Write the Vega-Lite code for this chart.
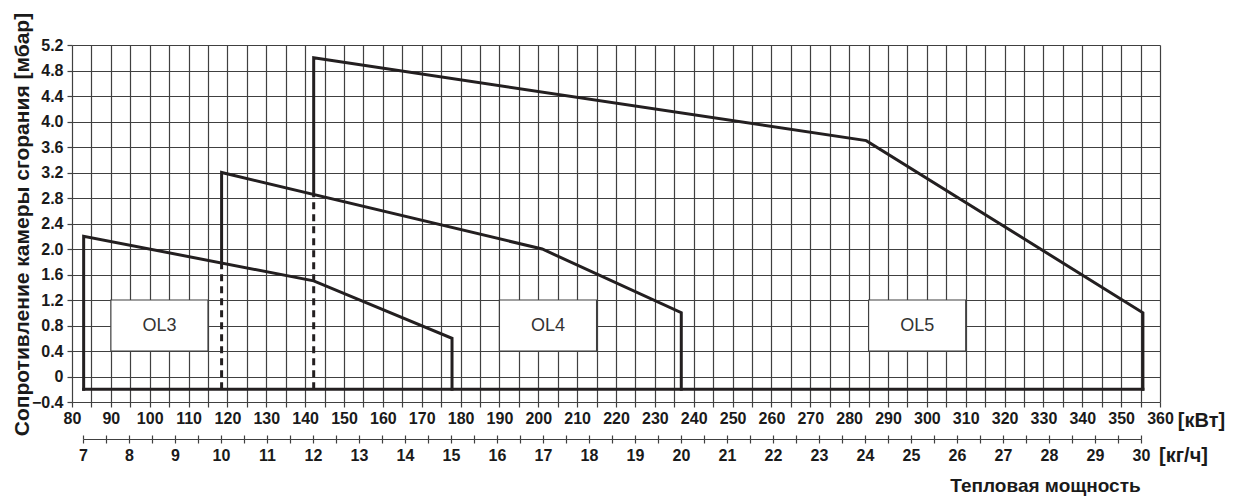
{
  "$schema": "https://vega.github.io/schema/vega-lite/v6.json",
  "width": 1088,
  "height": 357,
  "autosize": {"type": "none"},
  "padding": {"left": 72, "top": 45, "right": 73, "bottom": 96},
  "background": "white",
  "config": {
    "view": {"stroke": null},
    "font": "Liberation Sans",
    "axis": {
      "labelFont": "Liberation Sans",
      "labelFontWeight": "bold",
      "labelFontSize": 16,
      "labelColor": "#1a1a1a",
      "labelOverlap": false,
      "labelFlush": false,
      "titleFont": "Liberation Sans",
      "titleFontWeight": "bold",
      "titleColor": "#1a1a1a",
      "gridColor": "#404040",
      "gridWidth": 1.2,
      "gridOpacity": 1,
      "tickColor": "#404040",
      "tickWidth": 1.2,
      "domainColor": "#404040",
      "domainWidth": 1.2
    }
  },
  "datasets": {
    "solid": [
      {"s": "base", "o": 1, "kw": 83.0, "p": -0.2},
      {"s": "base", "o": 2, "kw": 355.6, "p": -0.2},
      {"s": "OL3", "o": 1, "kw": 83.0, "p": -0.2},
      {"s": "OL3", "o": 2, "kw": 83.0, "p": 2.2},
      {"s": "OL3", "o": 3, "kw": 142.2, "p": 1.5},
      {"s": "OL3", "o": 4, "kw": 177.8, "p": 0.6},
      {"s": "OL3", "o": 5, "kw": 177.8, "p": -0.2},
      {"s": "OL4", "o": 1, "kw": 118.5, "p": 1.78},
      {"s": "OL4", "o": 2, "kw": 118.5, "p": 3.2},
      {"s": "OL4", "o": 3, "kw": 201.0, "p": 2.0},
      {"s": "OL4", "o": 4, "kw": 236.8, "p": 1.0},
      {"s": "OL4", "o": 5, "kw": 236.8, "p": -0.2},
      {"s": "OL5", "o": 1, "kw": 142.2, "p": 2.86},
      {"s": "OL5", "o": 2, "kw": 142.2, "p": 5.0},
      {"s": "OL5", "o": 3, "kw": 284.4, "p": 3.7},
      {"s": "OL5", "o": 4, "kw": 355.6, "p": 1.0},
      {"s": "OL5", "o": 5, "kw": 355.6, "p": -0.2}
    ],
    "dashed": [
      {"s": "OL4", "o": 1, "kw": 118.5, "p": -0.2},
      {"s": "OL4", "o": 2, "kw": 118.5, "p": 1.78},
      {"s": "OL5", "o": 1, "kw": 142.2, "p": -0.2},
      {"s": "OL5", "o": 2, "kw": 142.2, "p": 2.86}
    ],
    "boxes": [
      {"label": "OL3", "x1": 90, "x2": 115, "y1": 0.4, "y2": 1.2, "xc": 102.5, "yc": 0.8},
      {"label": "OL4", "x1": 190, "x2": 215, "y1": 0.4, "y2": 1.2, "xc": 202.5, "yc": 0.8},
      {"label": "OL5", "x1": 285, "x2": 310, "y1": 0.4, "y2": 1.2, "xc": 297.5, "yc": 0.8}
    ],
    "kg": [{"k": 7}, {"k": 30}]
  },
  "layer": [
    {
      "data": {"name": "boxes"},
      "mark": {"type": "rect", "fill": "white", "stroke": "#404040", "strokeWidth": 1.2},
      "encoding": {
        "x": {
          "field": "x1", "type": "quantitative",
          "scale": {"domain": [80, 360], "nice": false, "zero": false},
          "axis": {
            "values": [80,85,90,95,100,105,110,115,120,125,130,135,140,145,150,155,160,165,170,175,180,185,190,195,200,205,210,215,220,225,230,235,240,245,250,255,260,265,270,275,280,285,290,295,300,305,310,315,320,325,330,335,340,345,350,355,360],
            "tickCount": 200,
            "labelExpr": "datum.value % 10 == 0 ? format(datum.value, 'd') : ''",
            "grid": true,
            "domain": false,
            "tickSize": 5,
            "labelPadding": 3,
            "title": "[кВт]",
            "titleFontSize": 20,
            "titleX": 1129, "titleY": 18, "titleAlign": "center", "titleBaseline": "middle", "titleAngle": 0
          }
        },
        "x2": {"field": "x2"},
        "y": {
          "field": "y1", "type": "quantitative",
          "scale": {"domain": [-0.4, 5.2], "nice": false, "zero": false},
          "axis": {
            "values": [-0.4, 0, 0.4, 0.8, 1.2, 1.6, 2, 2.4, 2.8, 3.2, 3.6, 4, 4.4, 4.8, 5.2],
            "tickCount": 100,
            "labelExpr": "datum.value == 0 ? '0' : format(datum.value, '.1f')",
            "grid": true,
            "domain": false,
            "tickSize": 5,
            "labelPadding": 4,
            "title": "Сопротивление камеры сгорания [мбар]",
            "titleFontSize": 21,
            "titleX": -50, "titleY": 179, "titleAlign": "center", "titleBaseline": "middle", "titleAngle": -90
          }
        },
        "y2": {"field": "y2"}
      }
    },
    {
      "data": {"name": "boxes"},
      "mark": {"type": "text", "font": "Liberation Sans", "fontSize": 18, "fontWeight": "normal", "color": "#333333", "baseline": "middle", "align": "center"},
      "encoding": {
        "x": {"field": "xc", "type": "quantitative", "scale": {"domain": [80, 360], "nice": false, "zero": false}, "axis": null},
        "y": {"field": "yc", "type": "quantitative"},
        "text": {"field": "label"}
      }
    },
    {
      "data": {"name": "solid"},
      "mark": {"type": "line", "color": "#231f20", "strokeWidth": 3, "strokeJoin": "miter", "strokeCap": "square"},
      "encoding": {
        "x": {"field": "kw", "type": "quantitative", "scale": {"domain": [80, 360], "nice": false, "zero": false}, "axis": null},
        "y": {"field": "p", "type": "quantitative"},
        "detail": {"field": "s"},
        "order": {"field": "o"}
      }
    },
    {
      "data": {"name": "dashed"},
      "mark": {"type": "line", "color": "#231f20", "strokeWidth": 3, "strokeDash": [7, 5], "strokeCap": "butt"},
      "encoding": {
        "x": {"field": "kw", "type": "quantitative", "scale": {"domain": [80, 360], "nice": false, "zero": false}, "axis": null},
        "y": {"field": "p", "type": "quantitative"},
        "detail": {"field": "s"},
        "order": {"field": "o"}
      }
    },
    {
      "data": {"name": "kg"},
      "mark": {"type": "point", "opacity": 0},
      "encoding": {
        "x": {
          "field": "k", "type": "quantitative",
          "scale": {"domain": [7, 30], "range": [11, 1069], "nice": false, "zero": false},
          "axis": {
            "orient": "bottom",
            "offset": 37,
            "values": [7,7.5,8,8.5,9,9.5,10,10.5,11,11.5,12,12.5,13,13.5,14,14.5,15,15.5,16,16.5,17,17.5,18,18.5,19,19.5,20,20.5,21,21.5,22,22.5,23,23.5,24,24.5,25,25.5,26,26.5,27,27.5,28,28.5,29,29.5,30],
            "tickCount": 200,
            "labelExpr": "datum.value % 1 == 0 ? format(datum.value, 'd') : ''",
            "grid": false,
            "domain": true,
            "tickSize": 4,
            "labelPadding": 4,
            "title": "[кг/ч]",
            "titleFontSize": 20,
            "titleX": 1111, "titleY": 16, "titleAlign": "center", "titleBaseline": "middle", "titleAngle": 0
          }
        }
      }
    },
    {
      "data": {"name": "kg"},
      "mark": {"type": "point", "opacity": 0},
      "encoding": {
        "x": {
          "field": "k", "type": "quantitative",
          "scale": {"domain": [7, 30], "range": [11, 1069], "nice": false, "zero": false},
          "axis": {
            "orient": "bottom",
            "offset": 37,
            "values": [7,7.5,8,8.5,9,9.5,10,10.5,11,11.5,12,12.5,13,13.5,14,14.5,15,15.5,16,16.5,17,17.5,18,18.5,19,19.5,20,20.5,21,21.5,22,22.5,23,23.5,24,24.5,25,25.5,26,26.5,27,27.5,28,28.5,29,29.5,30],
            "tickCount": 200,
            "labels": false,
            "grid": false,
            "domain": false,
            "tickSize": -4,
            "title": "Тепловая мощность",
            "titleFontSize": 19,
            "titleX": 973, "titleY": 46, "titleAlign": "center", "titleBaseline": "middle", "titleAngle": 0
          }
        }
      }
    }
  ],
  "resolve": {"scale": {"x": "independent"}, "axis": {"x": "independent"}}
}
